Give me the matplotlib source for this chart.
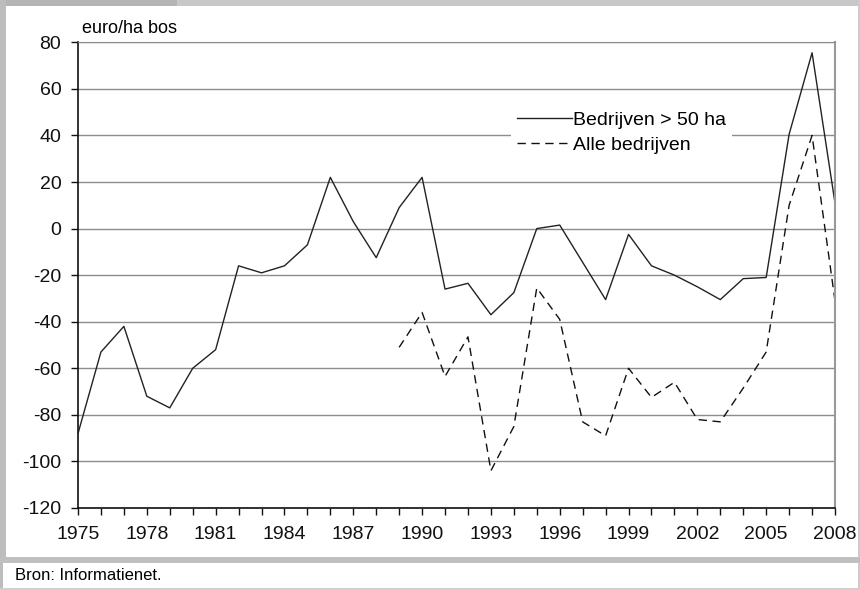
import matplotlib.pyplot as plt
from matplotlib.patches import Rectangle
from matplotlib.ticker import FixedLocator

plt.rcParams["font.family"] = ["Liberation Sans", "DejaVu Sans"]

# data (euro/ha bos)
years_big = list(range(1975, 2009))
big_farms = [-88, -53, -42, -72, -77, -60, -52, -16, -19, -16,
             -7, 22, 3, -12.5, 9, 22, -26, -23.5, -37, -27.5,
             0, 1.5, -14.5, -30.5, -2.5, -16, -20, -25, -30.5, -21.5,
             -21, 40.5, 75.5, 11]

years_all = list(range(1989, 2009))
all_farms = [-51, -36, -63.5, -46.5, -104, -85, -25.5, -39, -83, -89,
             -60, -72.5, -66, -82, -83, -68.5, -53, 10, 40, -31]

y_ticks = [-120, -100, -80, -60, -40, -20, 0, 20, 40, 60, 80]
x_label_years = list(range(1975, 2009, 3))

W, H = 860, 590
fig = plt.figure(figsize=(W / 100, H / 100), dpi=100)


def px_rect(x0, y0, x1, y1, color):
    # rectangle given in pixel coords (origin top-left)
    fig.add_artist(Rectangle((x0 / W, 1 - y1 / H), (x1 - x0) / W, (y1 - y0) / H,
                             transform=fig.transFigure, facecolor=color,
                             edgecolor="none", zorder=0))


# grey frame around the chart and footer
px_rect(0, 0, 177, 6, "#b4b4b4")
px_rect(177, 0, W, 6, "#c8c8c8")
px_rect(0, 0, 6, 563, "#bdbdbd")
px_rect(0, 563, 3, H, "#bdbdbd")
px_rect(858, 0, W, H, "#cccccc")
px_rect(0, 557, W, 563, "#c0c0c0")
px_rect(0, 588, W, H, "#d0d0d0")

ax = fig.add_axes([78 / W, 1 - 508 / H, (835 - 78) / W, (508 - 42.3) / H])

ax.plot(years_big, big_farms, color="#222222", lw=1.0, label="Bedrijven > 50 ha")
ax.plot(years_all, all_farms, color="#111111", lw=1.0, linestyle=(0, (6, 4)),
        label="Alle bedrijven")

ax.set_xlim(1975, 2008)
ax.set_ylim(-120, 80)
ax.set_axisbelow(True)

ax.yaxis.set_major_locator(FixedLocator(y_ticks))
ax.set_yticklabels([str(v) for v in y_ticks])
ax.xaxis.set_major_locator(FixedLocator(years_big))
ax.set_xticklabels([str(y) if y in x_label_years else "" for y in years_big])

ax.grid(axis="y", color="#8c8c8c", lw=1.0)
ax.tick_params(axis="y", length=5, width=1, pad=7, labelsize=14, colors="#111111")
ax.tick_params(axis="x", length=5, width=1, pad=8, labelsize=14, colors="#111111")

for side in ("left", "bottom"):
    ax.spines[side].set_color("#111111")
    ax.spines[side].set_linewidth(1.2)
ax.spines["top"].set_color("#8c8c8c")
ax.spines["right"].set_color("#999999")
ax.spines["right"].set_linewidth(1.5)

ax.text(0.005, 1.012, "euro/ha bos", transform=ax.transAxes, ha="left",
        va="bottom", fontsize=13)

leg = ax.legend(loc="center", bbox_to_anchor=(0.573, 0.726, 0.29, 0.161),
                frameon=True, fontsize=14, handlelength=2.8, handletextpad=0.05,
                labelspacing=0.4, borderpad=0.3)
leg.get_frame().set_facecolor("white")
leg.get_frame().set_edgecolor("none")
leg.get_frame().set_alpha(1)

fig.text(15 / W, 1 - 575 / H, "Bron: Informatienet.", ha="left", va="center",
         fontsize=12)

fig.savefig("out.png", dpi=100)
